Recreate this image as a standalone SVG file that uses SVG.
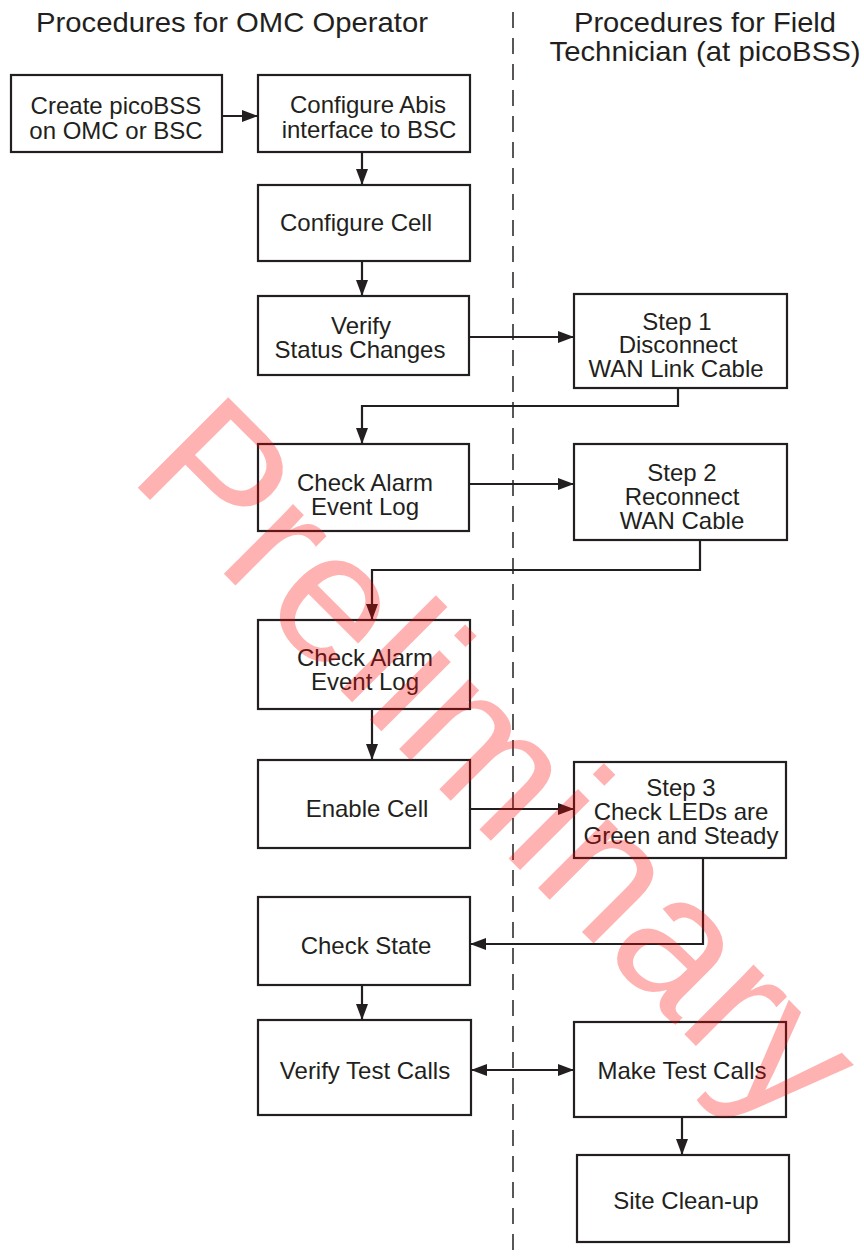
<svg xmlns="http://www.w3.org/2000/svg" width="864" height="1258" viewBox="0 0 864 1258">
<style>
.box{fill:#fff;stroke:#231f20;stroke-width:2.2}
.t{font-family:"Liberation Sans",Arial,sans-serif;font-size:24px;fill:#231f20;text-anchor:middle}
.h{font-family:"Liberation Sans",Arial,sans-serif;font-size:28px;fill:#231f20}
.c{fill:none;stroke:#231f20;stroke-width:2.2}
.d{fill:none;stroke:#231f20;stroke-width:1.5;stroke-dasharray:16 10}
.wm{font-family:"Liberation Sans",Arial,sans-serif;font-size:186px;fill:#ff0000;fill-opacity:0.3}
</style>
<defs>
<marker id="ah" markerUnits="userSpaceOnUse" markerWidth="16" markerHeight="12" viewBox="0 0 16 12" refX="15" refY="6" orient="auto-start-reverse">
<path d="M0,0 L16,6 L0,12 z" fill="#231f20"/>
</marker>
</defs>
<rect width="864" height="1258" fill="#fff"/>
<g id="headers">
<text class="h" x="36" y="32" textLength="392" lengthAdjust="spacingAndGlyphs">Procedures for OMC Operator</text>
<text class="h" x="705" y="32" text-anchor="middle" textLength="262" lengthAdjust="spacingAndGlyphs">Procedures for Field</text>
<text class="h" x="705" y="61" text-anchor="middle" textLength="311" lengthAdjust="spacingAndGlyphs">Technician (at picoBSS)</text>
</g>
<line class="d" x1="513" y1="12" x2="513" y2="1258"/>
<g id="connectors">
<line class="c" x1="222" y1="116" x2="257" y2="116" marker-end="url(#ah)"/>
<line class="c" x1="362" y1="152" x2="362" y2="184" marker-end="url(#ah)"/>
<line class="c" x1="362" y1="261" x2="362" y2="295" marker-end="url(#ah)"/>
<line class="c" x1="469" y1="337" x2="573" y2="337" marker-end="url(#ah)"/>
<polyline class="c" points="678,388 678,406 362,406 362,443" marker-end="url(#ah)"/>
<line class="c" x1="469" y1="484" x2="573" y2="484" marker-end="url(#ah)"/>
<polyline class="c" points="700,540 700,570 372,570 372,619" marker-end="url(#ah)"/>
<line class="c" x1="372" y1="709" x2="372" y2="759" marker-end="url(#ah)"/>
<line class="c" x1="470" y1="809" x2="573" y2="809" marker-end="url(#ah)"/>
<polyline class="c" points="703,858 703,944 471,944" marker-end="url(#ah)"/>
<line class="c" x1="362" y1="985" x2="362" y2="1019" marker-end="url(#ah)"/>
<line class="c" x1="472" y1="1070" x2="573" y2="1070" marker-start="url(#ah)" marker-end="url(#ah)"/>
<line class="c" x1="682" y1="1117" x2="682" y2="1154" marker-end="url(#ah)"/>
</g>
<g id="n1"><rect class="box" x="11" y="75" width="211" height="77"/><text class="t" x="116" y="114">Create picoBSS</text><text class="t" x="116" y="139">on OMC or BSC</text></g>
<g id="n2"><rect class="box" x="258" y="75" width="212" height="77"/><text class="t" x="368" y="113">Configure Abis</text><text class="t" x="369" y="138">interface to BSC</text></g>
<g id="n3"><rect class="box" x="258" y="185" width="212" height="76"/><text class="t" x="356" y="231">Configure Cell</text></g>
<g id="n4"><rect class="box" x="258" y="296" width="211" height="79"/><text class="t" x="361" y="334">Verify</text><text class="t" x="360" y="358">Status Changes</text></g>
<g id="n5"><rect class="box" x="574" y="294" width="213" height="94"/><text class="t" x="677" y="330">Step 1</text><text class="t" x="678" y="353">Disconnect</text><text class="t" x="676" y="377">WAN Link Cable</text></g>
<g id="n6"><rect class="box" x="258" y="444" width="211" height="87"/><text class="t" x="365" y="491">Check Alarm</text><text class="t" x="365" y="515">Event Log</text></g>
<g id="n7"><rect class="box" x="574" y="444" width="213" height="96"/><text class="t" x="682" y="481">Step 2</text><text class="t" x="682" y="505">Reconnect</text><text class="t" x="682" y="529">WAN Cable</text></g>
<g id="n8"><rect class="box" x="258" y="620" width="212" height="89"/><text class="t" x="365" y="666">Check Alarm</text><text class="t" x="365" y="690">Event Log</text></g>
<g id="n9"><rect class="box" x="258" y="760" width="212" height="88"/><text class="t" x="367" y="817">Enable Cell</text></g>
<g id="n10"><rect class="box" x="574" y="762" width="212" height="96"/><text class="t" x="681" y="796">Step 3</text><text class="t" x="681" y="820">Check LEDs are</text><text class="t" x="681" y="844">Green and Steady</text></g>
<g id="n11"><rect class="box" x="258" y="897" width="212" height="88"/><text class="t" x="366" y="954">Check State</text></g>
<g id="n12"><rect class="box" x="258" y="1020" width="213" height="95"/><text class="t" x="365" y="1079">Verify Test Calls</text></g>
<g id="n13"><rect class="box" x="574" y="1022" width="212" height="95"/><text class="t" x="682" y="1079">Make Test Calls</text></g>
<g id="n14"><rect class="box" x="577" y="1155" width="212" height="87"/><text class="t" x="686" y="1209">Site Clean-up</text></g>
<text class="wm" transform="translate(127,477) rotate(45)">Preliminary</text>
</svg>
